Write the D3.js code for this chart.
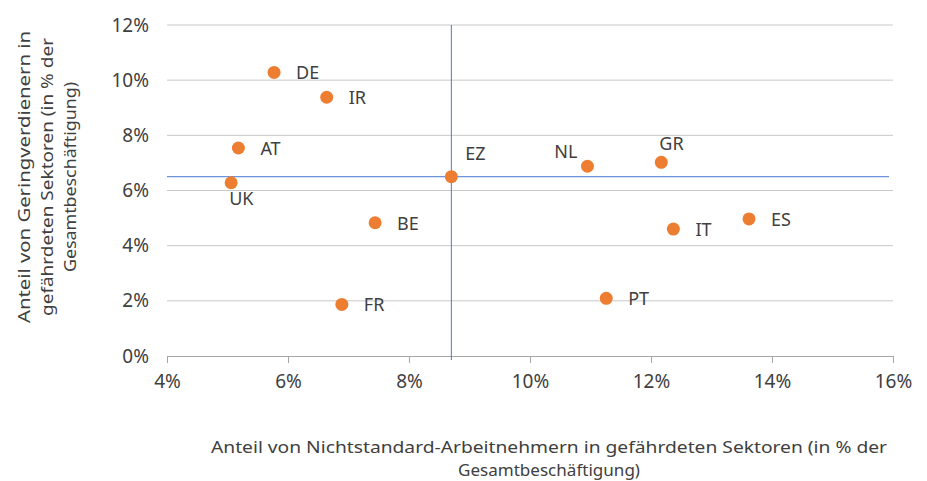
<!DOCTYPE html>
<html>
<head>
<meta charset="utf-8">
<script src="https://cdn.jsdelivr.net/npm/d3@7"></script>
<style>
  body { margin: 0; background: #fff; }
  svg { font-family: "Noto Sans", sans-serif; }
</style>
</head>
<body>
<div id="chart"></div>
<script>
// Länder und Werte (in %)
const laender = ["DE", "IR", "AT", "UK", "EZ", "NL", "GR", "IT", "ES", "PT", "BE", "FR"];
const xWerte = [5.77, 6.64, 5.18, 5.06, 8.7, 10.95, 12.17, 12.37, 13.62, 11.26, 7.44, 6.89];
const yWerte = [10.28, 9.38, 7.54, 6.28, 6.5, 6.88, 7.02, 4.6, 4.97, 2.09, 4.83, 1.87];
// Position der Beschriftung relativ zum Punkt
const labelPos = ["r", "r", "r", "b", "tr", "tl", "t", "r", "r", "r", "r", "r"];
const xTicks = [4, 6, 8, 10, 12, 14, 16];
const yTicks = [0, 2, 4, 6, 8, 10, 12];
const ezX = 8.7, ezY = 6.5;
const xTitel = ["Anteil von Nichtstandard-Arbeitnehmern in gefährdeten Sektoren (in % der", "Gesamtbeschäftigung)"];
const yTitel = ["Anteil von Geringverdienern in", "gefährdeten Sektoren (in % der", "Gesamtbeschäftigung)"];

const width = 927, height = 481;
const margin = { top: 25, right: 34, bottom: 125, left: 167 };
const w = width - margin.left - margin.right;
const h = height - margin.top - margin.bottom;
const textFarbe = "#404040";

const svg = d3.select("#chart")
    .append("svg")
    .attr("width", width)
    .attr("height", height);

const g = svg.append("g")
    .attr("transform", `translate(${margin.left},${margin.top})`);

const xScale = d3.scaleLinear().domain([4, 16]).range([0, w]);
const yScale = d3.scaleLinear().domain([0, 12]).range([h, 0]);

// Gitterlinien
g.selectAll(".grid")
    .data(yTicks.filter(d => d > 0))
    .enter()
    .append("line")
    .attr("x1", 0)
    .attr("x2", w)
    .attr("y1", d => yScale(d))
    .attr("y2", d => yScale(d))
    .attr("stroke", "#c8c8c8")
    .attr("stroke-width", 1);

// Y-Achse (nur Beschriftung)
const yAxis = g.append("g")
    .call(d3.axisLeft(yScale).tickValues(yTicks).tickFormat(d => d + "%").tickSize(0).tickPadding(18))
    .attr("font-size", 19);
yAxis.select(".domain").remove();
yAxis.selectAll("text").attr("fill", textFarbe).attr("font-family", "Noto Sans");

// X-Achse
const xAxis = g.append("g")
    .attr("transform", `translate(0,${h})`)
    .call(d3.axisBottom(xScale).tickValues(xTicks).tickFormat(d => d + "%").tickSizeOuter(0).tickSizeInner(7).tickPadding(12))
    .attr("font-size", 19);
xAxis.select(".domain").attr("stroke", "#a6a6a6");
xAxis.selectAll(".tick line").attr("stroke", "#a6a6a6");
xAxis.selectAll("text").attr("fill", textFarbe).attr("font-family", "Noto Sans");

// Eurozonen-Durchschnitt als Fadenkreuz
g.append("line")
    .attr("x1", xScale(ezX))
    .attr("x2", xScale(ezX))
    .attr("y1", yScale(12))
    .attr("y2", h + 4)
    .attr("stroke", "#4a78cf")
    .attr("stroke-width", 1);

g.append("line")
    .attr("x1", 0)
    .attr("x2", w - 4)
    .attr("y1", yScale(ezY))
    .attr("y2", yScale(ezY))
    .attr("stroke", "#4a78cf")
    .attr("stroke-width", 1);

// Punkte
g.selectAll("circle")
    .data(laender)
    .enter()
    .append("circle")
    .attr("cx", (d, i) => xScale(xWerte[i]))
    .attr("cy", (d, i) => yScale(yWerte[i]))
    .attr("r", 6.5)
    .attr("fill", "#ed7d31");

// Beschriftungen der Punkte
const offs = {
    r: { dx: 22, dy: 7, anchor: "start" },
    b: { dx: -2, dy: 22, anchor: "start" },
    tr: { dx: 14, dy: -17, anchor: "start" },
    tl: { dx: -10, dy: -8, anchor: "end" },
    t: { dx: -2, dy: -12, anchor: "start" }
};

g.selectAll(".lbl")
    .data(laender)
    .enter()
    .append("text")
    .attr("x", (d, i) => xScale(xWerte[i]) + offs[labelPos[i]].dx)
    .attr("y", (d, i) => yScale(yWerte[i]) + offs[labelPos[i]].dy)
    .attr("text-anchor", (d, i) => offs[labelPos[i]].anchor)
    .attr("fill", textFarbe)
    .style("font-size", "18px")
    .text(d => d);

// Achsentitel X
svg.selectAll(".xtitel")
    .data(xTitel)
    .enter()
    .append("text")
    .attr("x", 549)
    .attr("y", (d, i) => 453 + i * 23)
    .attr("text-anchor", "middle")
    .attr("fill", textFarbe)
    .style("font-size", "17px")
    .attr("textLength", (d, i) => i === 0 ? 676 : 182)
    .attr("lengthAdjust", "spacingAndGlyphs")
    .text(d => d);

// Achsentitel Y
svg.selectAll(".ytitel")
    .data(yTitel)
    .enter()
    .append("text")
    .attr("transform", (d, i) => `translate(${30 + i * 23},177) rotate(-90)`)
    .attr("text-anchor", "middle")
    .attr("fill", textFarbe)
    .style("font-size", "17px")
    .attr("textLength", (d, i) => [292, 278, 190][i])
    .attr("lengthAdjust", "spacingAndGlyphs")
    .text(d => d);
</script>
</body>
</html>
